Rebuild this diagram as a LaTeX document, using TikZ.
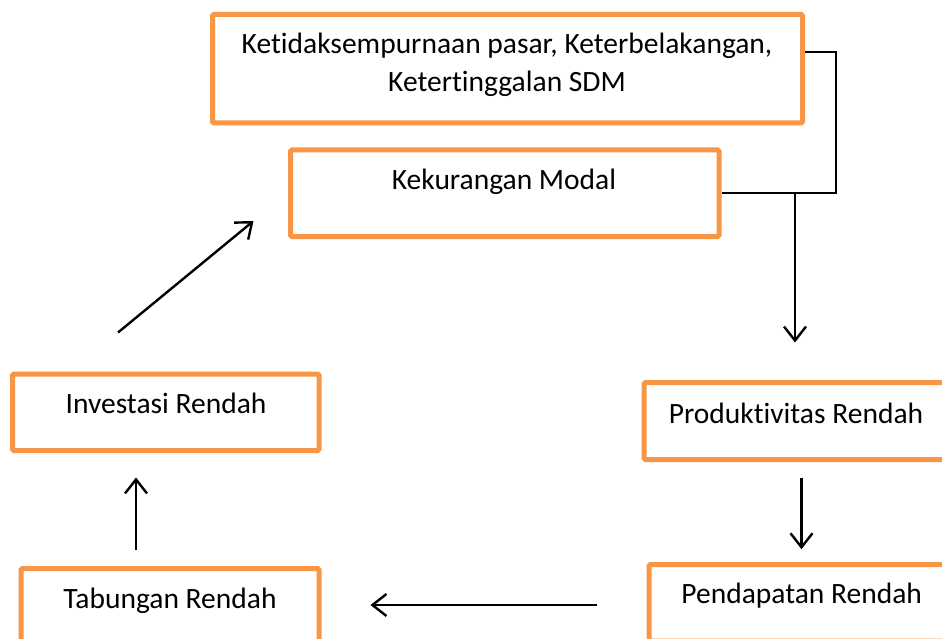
\documentclass[tikz,border=0pt]{standalone}
\usepackage{fontspec}
\setmainfont{Carlito}[Ligatures={NoCommon}]
\usetikzlibrary{arrows.meta,calc}
\definecolor{boxorange}{HTML}{F79646}
\tikzset{
  box/.style={draw=boxorange, line width=5pt, rounded corners=1.5pt, fill=white, inner sep=0pt, rectangle},
  txt/.style={anchor=base, inner sep=0pt, font=\fontsize{29.5}{35}\selectfont, text=black},
  conn/.style={draw=black, line width=2.2pt},
  arr/.style={draw=black, line width=2.4pt, -{Straight Barb[length=14pt,width=22pt,line width=2.4pt]}},
}
\begin{document}
\begin{tikzpicture}[x=1pt,y=-1pt]
\useasboundingbox (0,0) rectangle (942,639);
\clip (0,0) rectangle (942,639);
\fill[white] (0,0) rectangle (942,639);
% boxes
\node[box, minimum width=590pt, minimum height=108.5pt] (b1) at (507.5,68.75) {};
\node[box, minimum width=428.5pt, minimum height=86.5pt] (b2) at (504.75,193.25) {};
\node[box, minimum width=306.5pt, minimum height=76.5pt] (inv) at (165.75,412.25) {};
\node[box, minimum width=298pt, minimum height=76pt] (tab) at (170,606.5) {};
\node[box, minimum width=304pt, minimum height=77pt] (prod) at (796,421) {};
\node[box, minimum width=305pt, minimum height=76.5pt] (pend) at (801.5,602.75) {};
% texts
\node[txt] (t1a) at (507,54) {Ketidaksempurnaan pasar, Keterbelakangan,};
\node[txt] (t1b) at (507,92) {Ketertinggalan SDM};
\node[txt] (t2) at (504,190) {Kekurangan Modal};
\node[txt] (tinv) at (166,413) {Investasi Rendah};
\node[txt] (ttab) at (170,608) {Tabungan Rendah};
\node[txt] (tprod) at (796,423) {Produktivitas Rendah};
\node[txt] (tpend) at (801.7,603) {Pendapatan Rendah};
% connectors
\coordinate (j1) at (836,52.3);
\coordinate (j2) at (836,192.7);
\draw[conn, line join=miter] (b1.east |- j1) -- (j1) -- (j2) -- (b2.east |- j2);
\draw[arr] ($(prod.north |- j2)+(-1pt,0pt)$) -- ($(prod.north)+(-1pt,37.5pt)$);
\draw[arr] ($(prod.south -| pend.north)+(0pt,-15.5pt)$) -- ($(pend.north)+(0pt,12.8pt)$);
\draw[arr] ($(pend.west)+(-50pt,-2.25pt)$) -- ($(tab.east)+(49pt,1.5pt)$);
\draw[arr] ($(tab.north)+(-34pt,15.8pt)$) -- ($(inv.south)+(-29.75pt,-24.5pt)$);
\draw[arr] ($(inv.north)+(-47.75pt,39pt)$) -- ($(b2.west)+(-34.5pt,-27.75pt)$);
\end{tikzpicture}
\end{document}
